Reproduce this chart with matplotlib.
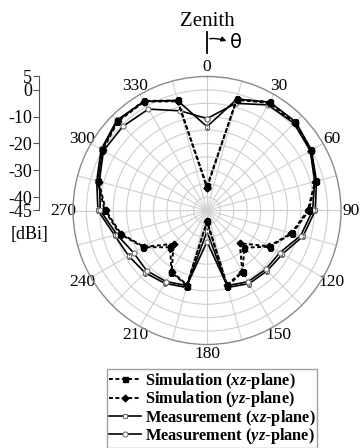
import numpy as np
import matplotlib
matplotlib.use("Agg")
import matplotlib.pyplot as plt
from matplotlib.lines import Line2D
from matplotlib.patches import FancyArrowPatch

plt.rcParams['font.family'] = ['Liberation Serif', 'DejaVu Serif']
plt.rcParams['mathtext.fontset'] = 'custom'
plt.rcParams['mathtext.rm'] = 'Liberation Serif'
plt.rcParams['mathtext.it'] = 'Liberation Serif:italic'
plt.rcParams['mathtext.bf'] = 'Liberation Serif:bold'
try:
    plt.rcParams['mathtext.bfit'] = 'Liberation Serif:italic:bold'
    PL = r'$\mathbfit{%s}$'
except KeyError:
    PL = r'$\mathit{%s}$'

# angles in degrees, 15 deg steps
theta_deg = list(range(0, 360, 15))

sim_xz = [-36.0, -2.0, 1.7, 1.5, 0.0, -3.0, -7.0, -12.0, -18.0, -25.4, -18.4, -15.8,
          -41.0, -16.0, -18.4, -25.6, -17.6, -11.3, -6.8, -2.8, 0.3, 2.3, 2.2, -2.5]
sim_yz = [-36.5, -2.3, 1.4, 1.2, -0.3, -3.3, -7.4, -12.4, -18.3, -27.7, -18.7, -16.2,
          -41.0, -16.3, -18.6, -27.4, -17.9, -11.7, -7.2, -3.2, 0.0, 2.0, 1.9, -2.8]
meas_xz = [-13.7, -2.0, 1.7, 1.8, 0.0, -2.7, -4.6, -7.9, -12.5, -13.2, -13.5, -15.3,
           -37.2, -15.3, -13.6, -12.2, -11.2, -9.3, -4.3, -2.4, 0.6, 2.6, 2.0, -2.5]
meas_yz = [-10.7, -3.6, 0.5, 1.0, -0.5, -3.4, -5.6, -8.8, -13.6, -14.0, -14.3, -16.0,
           -33.4, -16.0, -14.4, -13.2, -13.4, -10.2, -5.2, -3.4, -0.4, -0.6, -1.3, -6.5]

scale_ticks = [5, 0, -10, -20, -30, -40, -45]
labels = ["Simulation (%s-plane)" % (PL % 'xz'),
          "Simulation (%s-plane)" % (PL % 'yz'),
          "Measurement (%s-plane)" % (PL % 'xz'),
          "Measurement (%s-plane)" % (PL % 'yz')]


def closed(v):
    return np.append(v, v[0])


th = np.deg2rad(closed(theta_deg))

W, H = 364, 448
fig = plt.figure(figsize=(W / 100, H / 100), dpi=100)

cx, cy, R = 207, 210.5, 134
ax = fig.add_axes([(cx - R) / W, 1 - (cy + R) / H, 2 * R / W, 2 * R / H], projection='polar')
ax.set_theta_zero_location('N')
ax.set_theta_direction(-1)
ax.set_ylim(-45, 5)
ax.set_rgrids(np.arange(-40, 5, 5), labels=[''] * 9)
ax.set_thetagrids(range(0, 360, 15),
                  labels=[str(a) if a % 30 == 0 else '' for a in range(0, 360, 15)])
ax.tick_params(axis='x', labelsize=12.5, pad=0, length=0)
ax.grid(color='#cfcfcf', linewidth=0.8)
ax.spines['polar'].set_color('#8a8a8a')
ax.spines['polar'].set_linewidth(1.0)

dash = (0, (2.0, 1.3))
ax.plot(th, closed(sim_xz), color='black', linestyle=dash, linewidth=1.4,
        marker='s', markersize=3.6, markerfacecolor='black', label=labels[0], zorder=4)
ax.plot(th, closed(sim_yz), color='black', linestyle=dash, linewidth=1.4,
        marker='D', markersize=3.4, markerfacecolor='black', label=labels[1], zorder=4)
ax.plot(th, closed(meas_xz), color='black', linewidth=1.2,
        marker='s', markersize=3.4, markerfacecolor='white', markeredgecolor='#707070',
        markeredgewidth=0.8, label=labels[2], zorder=3)
ax.plot(th, closed(meas_yz), color='black', linewidth=1.2,
        marker='o', markersize=3.6, markerfacecolor='white', markeredgecolor='#707070',
        markeredgewidth=0.8, label=labels[3], zorder=3)

# dB scale on the left
sax = fig.add_axes([39 / W, 1 - cy / H, 0.01, R / H])
sax.set_ylim(-45, 5)
sax.set_xlim(0, 1)
for s in ['top', 'right', 'bottom']:
    sax.spines[s].set_visible(False)
sax.spines['left'].set_color('#555555')
sax.set_xticks([])
sax.set_yticks(scale_ticks)
sax.set_yticklabels([str(t) for t in scale_ticks])
sax.tick_params(axis='y', labelsize=13, length=4, pad=1, color='#555555')
sax.patch.set_alpha(0)
fig.text(30 / W, 1 - 234 / H, '[dBi]', fontsize=13, ha='center', va='center')

# zenith marker
fig.text(cx / W, 1 - 21 / H, 'Zenith', fontsize=15, ha='center', va='center')
fig.add_artist(Line2D([cx / W, cx / W], [1 - 32 / H, 1 - 53 / H], color='black', linewidth=1.3))
fig.add_artist(FancyArrowPatch((cx / W, 1 - 39 / H), (229 / W, 1 - 42 / H),
                               transform=fig.transFigure, arrowstyle='-|>', mutation_scale=7,
                               connectionstyle='arc3,rad=-0.15', color='black', linewidth=1.0))
fig.text(236 / W, 1 - 42 / H, 'θ', fontsize=14, ha='center', va='center', family='DejaVu Sans')

leg = fig.legend(loc='upper center', bbox_to_anchor=(212 / W, 1 - 369 / H),
                 prop={'weight': 'bold', 'size': 11.8}, frameon=True, fancybox=False,
                 edgecolor='#8a8a8a', handlelength=2.0, handletextpad=0.2,
                 labelspacing=-0.1, borderpad=0.12, borderaxespad=0)
leg.get_frame().set_linewidth(1.0)

fig.savefig('out.png', dpi=100)
